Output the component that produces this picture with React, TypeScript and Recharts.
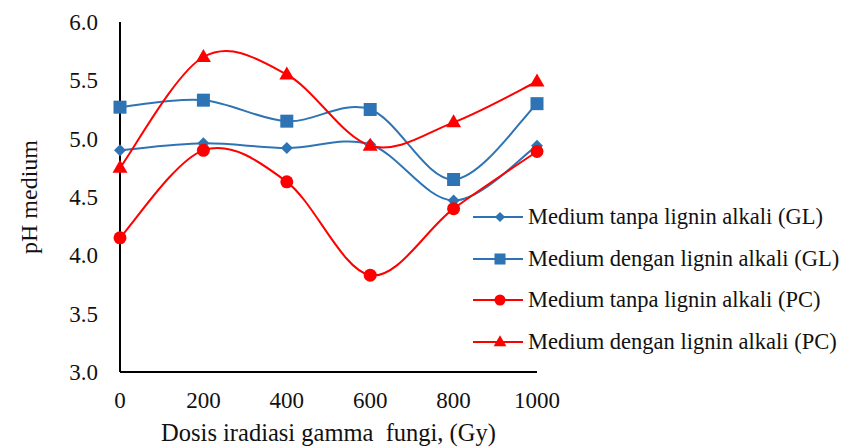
import { Legend, Line, LineChart, XAxis, YAxis, Label } from "recharts";

const doses = [0, 200, 400, 600, 800, 1000];
const tanpaGL = [4.9, 4.96, 4.92, 4.95, 4.47, 4.94];
const denganGL = [5.27, 5.33, 5.15, 5.25, 4.65, 5.3];
const tanpaPC = [4.15, 4.9, 4.63, 3.83, 4.4, 4.89];
const denganPC = [4.75, 5.7, 5.55, 4.94, 5.14, 5.49];
const yTicks = [3.0, 3.5, 4.0, 4.5, 5.0, 5.5, 6.0];

const BLUE = "#2E74B5";
const RED = "#FF0000";
const FONT = "'Liberation Serif', 'Times New Roman', serif";

const data = doses.map((d, i) => ({
  dose: d,
  tanpaGL: tanpaGL[i],
  denganGL: denganGL[i],
  tanpaPC: tanpaPC[i],
  denganPC: denganPC[i],
}));

// smooth line like the spreadsheet one (catmull-rom style bezier)
function smoothCurve(context: any) {
  let pts: [number, number][] = [];
  return {
    areaStart() {},
    areaEnd() {},
    lineStart() {
      pts = [];
    },
    point(x: number, y: number) {
      pts.push([x, y]);
    },
    lineEnd() {
      if (!pts.length) return;
      context.moveTo(pts[0][0], pts[0][1]);
      for (let i = 0; i < pts.length - 1; i++) {
        const p0 = pts[i - 1] || pts[i];
        const p1 = pts[i];
        const p2 = pts[i + 1];
        const p3 = pts[i + 2] || p2;
        const t = 1 / 6;
        context.bezierCurveTo(
          p1[0] + (p2[0] - p0[0]) * t,
          p1[1] + (p2[1] - p0[1]) * t,
          p2[0] - (p3[0] - p1[0]) * t,
          p2[1] - (p3[1] - p1[1]) * t,
          p2[0],
          p2[1]
        );
      }
    },
  };
}

function Marker({ cx, cy, shape, color, k = 1 }: any) {
  if (cx == null || cy == null) return null;
  if (shape === "diamond") {
    const d = 6 * k;
    return <polygon points={`${cx},${cy - d} ${cx + d},${cy} ${cx},${cy + d} ${cx - d},${cy}`} fill={color} />;
  }
  if (shape === "square") {
    const h = 6.5 * k;
    return <rect x={cx - h} y={cy - h} width={2 * h} height={2 * h} fill={color} />;
  }
  if (shape === "circle") return <circle cx={cx} cy={cy} r={6.5 * k} fill={color} />;
  return (
    <polygon
      points={`${cx},${cy - 8 * k} ${cx + 7.5 * k},${cy + 5 * k} ${cx - 7.5 * k},${cy + 5 * k}`}
      fill={color}
    />
  );
}

const series = [
  { key: "tanpaGL", name: "Medium tanpa lignin alkali (GL)", color: BLUE, shape: "diamond" },
  { key: "denganGL", name: "Medium dengan lignin alkali (GL)", color: BLUE, shape: "square" },
  { key: "tanpaPC", name: "Medium tanpa lignin alkali (PC)", color: RED, shape: "circle" },
  { key: "denganPC", name: "Medium dengan lignin alkali (PC)", color: RED, shape: "triangle" },
];

function LegendBox() {
  return (
    <div style={{ fontFamily: FONT, fontSize: 22.5, color: "#111", whiteSpace: "nowrap" }}>
      {series.map((s) => (
        <div key={s.key} style={{ display: "flex", alignItems: "center", height: 41.7 }}>
          <svg width={55} height={20} style={{ flex: "none" }}>
            <line x1={0} y1={10} x2={50} y2={10} stroke={s.color} strokeWidth={2} />
            <Marker cx={27} cy={10} shape={s.shape} color={s.color} k={0.85} />
          </svg>
          <span>{s.name}</span>
        </div>
      ))}
    </div>
  );
}

export default function App() {
  return (
    <div style={{ position: "absolute", left: 0, top: 0, background: "#fff" }}>
      <LineChart width={845} height={448} data={data} margin={{ top: 22, right: 308, bottom: 0, left: 0 }}>
        <XAxis
          dataKey="dose"
          type="number"
          domain={[0, 1000]}
          ticks={doses}
          axisLine={{ stroke: "#000", strokeWidth: 2 }}
          tickLine={false}
          tickSize={6}
          tickMargin={14}
          height={76}
          tick={{ fill: "#111", fontSize: 23, fontFamily: FONT }}
        >
          <Label
            value={"Dosis iradiasi gamma\u00a0 fungi, (Gy)"}
            position="insideBottom"
            offset={7}
            style={{ fill: "#111", fontSize: 24.5, fontFamily: FONT }}
          />
        </XAxis>
        <YAxis
          type="number"
          domain={[3, 6]}
          ticks={yTicks}
          tickFormatter={(v: number) => v.toFixed(1)}
          axisLine={{ stroke: "#000", strokeWidth: 2 }}
          tickLine={false}
          tickSize={6}
          tickMargin={16}
          width={120}
          tick={{ fill: "#111", fontSize: 23, fontFamily: FONT }}
        >
          <Label
            value="pH medium"
            angle={-90}
            position="insideLeft"
            offset={28}
            style={{ fill: "#111", fontSize: 24, fontFamily: FONT, textAnchor: "middle" }}
          />
        </YAxis>
        <Legend
          layout="vertical"
          align="center"
          verticalAlign="middle"
          content={() => <LegendBox />}
          wrapperStyle={{ left: 473, top: 196, width: 372, height: 170 }}
        />
        {series.map((s) => (
          <Line
            key={s.key}
            dataKey={s.key}
            name={s.name}
            type={smoothCurve as any}
            stroke={s.color}
            strokeWidth={2}
            dot={(p: any) => <Marker key={`${s.key}-${p.index}`} cx={p.cx} cy={p.cy} shape={s.shape} color={s.color} />}
            activeDot={false}
            isAnimationActive={false}
          />
        ))}
      </LineChart>
    </div>
  );
}
